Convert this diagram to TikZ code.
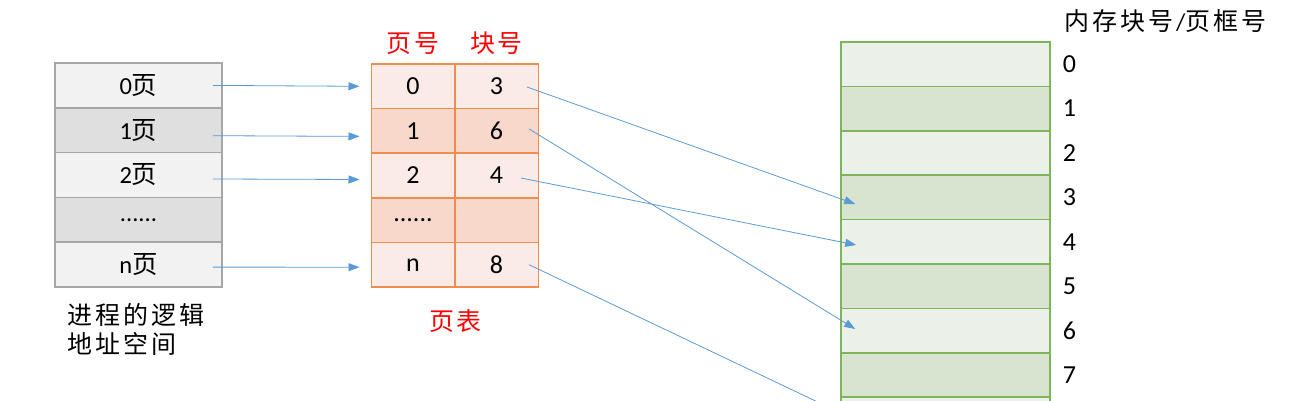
\documentclass[tikz,border=0pt]{standalone}
\usepackage{fontspec}
\setmainfont{Carlito}
\newfontfamily\cjk[LetterSpace=12,Scale=1.04]{Noto Sans CJK SC}
\usetikzlibrary{arrows.meta,positioning}
\definecolor{grayline}{HTML}{A6A6A6}
\definecolor{graylight}{HTML}{F2F2F2}
\definecolor{graydark}{HTML}{DFDFDF}
\definecolor{orangeline}{HTML}{F08C4E}
\definecolor{orangelight}{HTML}{FBEBE6}
\definecolor{orangedark}{HTML}{F8D8CB}
\definecolor{greenline}{HTML}{7DB65A}
\definecolor{greenlight}{HTML}{EBF0E8}
\definecolor{greendark}{HTML}{D8E4CF}
\definecolor{linkblue}{HTML}{5B9BD5}
\begin{document}
\begin{tikzpicture}[x=1pt,y=-1pt,
% common options for the logical pages:
page/.style = {draw=grayline, line width=1.5pt, minimum width=167pt,
            minimum height=44.8pt, inner sep=0, font=\fontsize{24.5}{28}\selectfont},
% common options for the page table:
entry/.style = {draw=orangeline, line width=1.5pt, minimum width=83.5pt,
            minimum height=44.6pt, inner sep=0, font=\fontsize{26}{30}\selectfont},
% common options for the memory blocks:
frame/.style = {draw=greenline, line width=1.5pt, minimum width=209pt,
            minimum height=44.4pt, inner sep=0},
idx/.style = {inner sep=0, anchor=west, font=\fontsize{26}{30}\selectfont},
caption/.style = {inner sep=0, font=\fontsize{24}{29}\selectfont},
link/.style = {draw=linkblue, line width=0.8pt, -{Triangle[length=11pt,width=8pt]}}]
\useasboundingbox (0,0) rectangle (1307,401);
\clip (0,0) rectangle (1307,401);
% logical address space
\node[page,fill=graylight] (l0) at (138.5,85.4) {0\cjk 页};
\node[page,fill=graydark] (l1) at (138.5,130.2) {1\cjk 页};
\node[page,fill=graylight] (l2) at (138.5,175.0) {2\cjk 页};
\node[page,fill=graydark] (l3) at (138.5,219.8) {......};
\node[page,fill=graylight] (l4) at (138.5,264.6) {n\cjk 页};
\node[caption,align=left,anchor=north west] (lcap) at (67,303) {\cjk 进程的逻辑\\\cjk 地址空间};
% page table
\node[entry,fill=orangelight] (p0) at (413,86.3) {0};
\node[entry,fill=orangedark] (p1) at (413,130.9) {1};
\node[entry,fill=orangelight] (p2) at (413,175.5) {2};
\node[entry,fill=orangedark] (p3) at (413,220.1) {......};
\node[entry,fill=orangelight] (p4) at (413,264.7) {n};
\node[entry,fill=orangelight] (b0) at (496.5,86.3) {3};
\node[entry,fill=orangedark] (b1) at (496.5,130.9) {6};
\node[entry,fill=orangelight] (b2) at (496.5,175.5) {4};
\node[entry,fill=orangedark] (b3) at (496.5,220.1) {};
\node[entry,fill=orangelight] (b4) at (496.5,264.7) {8};
\node[caption,text=red] (phead) at ([yshift=20pt]p0.north) {\cjk 页号};
\node[caption,text=red] (bhead) at ([yshift=20pt]b0.north) {\cjk 块号};
\node[caption,text=red] (tcap) at ([yshift=-33pt]p4.south east) {\cjk 页表};
% physical memory
\node[frame,fill=greenlight] (m0) at (945.5,64.2) {};
\node[frame,fill=greendark] (m1) at (945.5,108.6) {};
\node[frame,fill=greenlight] (m2) at (945.5,153.0) {};
\node[frame,fill=greendark] (m3) at (945.5,197.4) {};
\node[frame,fill=greenlight] (m4) at (945.5,241.8) {};
\node[frame,fill=greendark] (m5) at (945.5,286.2) {};
\node[frame,fill=greenlight] (m6) at (945.5,330.6) {};
\node[frame,fill=greendark] (m7) at (945.5,375.0) {};
\node[frame,fill=greenlight] (m8) at (945.5,419.4) {};
\node[idx,right=12pt of m0] (n0) {0};
\node[idx,right=12pt of m1] (n1) {1};
\node[idx,right=12pt of m2] (n2) {2};
\node[idx,right=12pt of m3] (n3) {3};
\node[idx,right=12pt of m4] (n4) {4};
\node[idx,right=12pt of m5] (n5) {5};
\node[idx,right=12pt of m6] (n6) {6};
\node[idx,right=12pt of m7] (n7) {7};
\node[caption,anchor=west] (mhead) at (1064,21) {\cjk 内存块号\/{\rmfamily/}\cjk 页框号};
% page -> table
\draw[link] ([xshift=-10pt]l0.east) to ([xshift=-11pt]p0.west);
\draw[link] ([xshift=-10pt,yshift=-5.5pt]l1.east) to ([xshift=-11pt,yshift=-5.5pt]p1.west);
\draw[link] ([xshift=-10pt,yshift=-4pt]l2.east) to ([xshift=-11pt,yshift=-4pt]p2.west);
\draw[link] ([xshift=-10pt,yshift=-2.5pt]l4.east) to ([xshift=-11pt,yshift=-2.5pt]p4.west);
% table -> memory
\draw[link] ([xshift=-12pt,yshift=-0.7pt]b0.east) to ([xshift=15pt,yshift=-6.6pt]m3.west);
\draw[link] ([xshift=-10pt,yshift=2pt]b1.east) to ([xshift=15pt,yshift=1.6pt]m6.west);
\draw[link] ([xshift=-18pt,yshift=-2.5pt]b2.east) to ([xshift=16pt,yshift=-3.2pt]m4.west);
\draw[link] ([xshift=-10pt]b4.east) to ([xshift=14pt]m8.west);
\end{tikzpicture}
\end{document}
